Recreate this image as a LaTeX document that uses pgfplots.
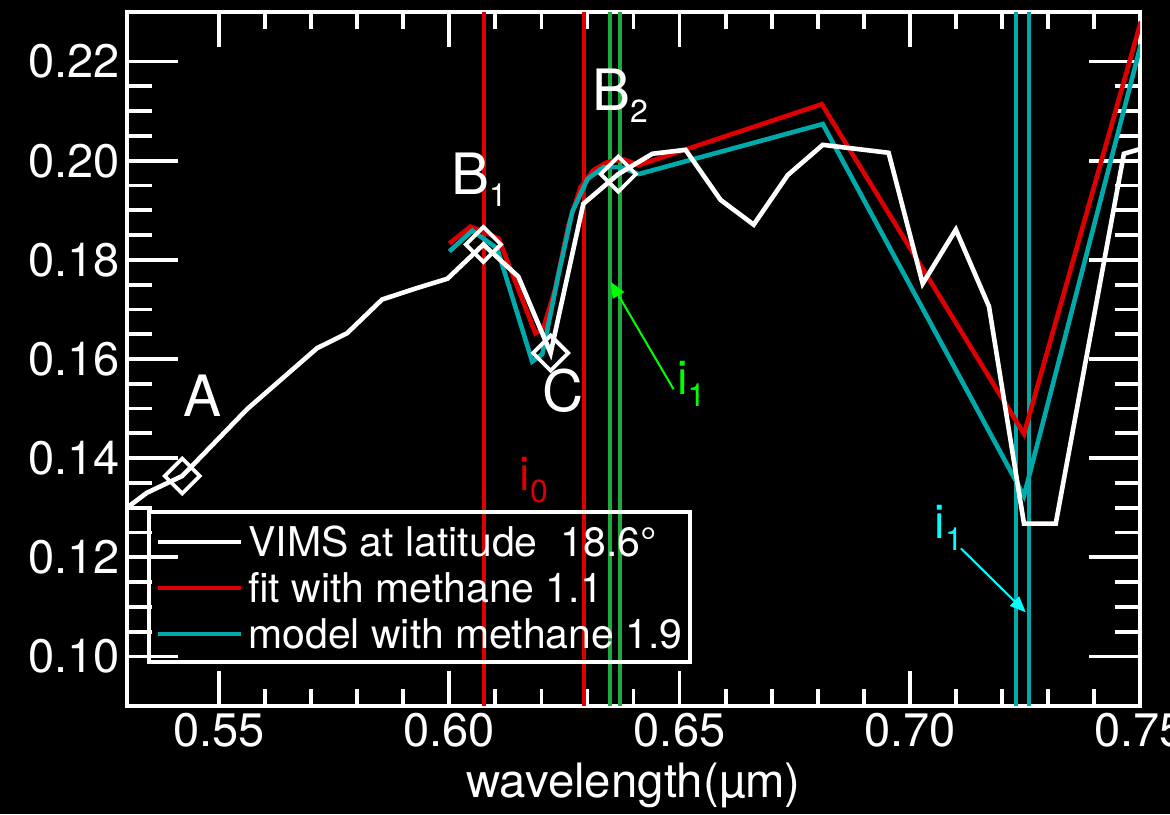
\documentclass[border=0pt]{standalone}
\usepackage{pgfplots}
\pgfplotsset{compat=1.18}
\usepackage{fontspec}
\setmainfont{TeX Gyre Heros}
\usetikzlibrary{arrows.meta}

\definecolor{fitred}{RGB}{220,0,0}
\definecolor{modelteal}{RGB}{0,170,170}
\definecolor{bandgreen}{RGB}{30,170,60}
\definecolor{arrowgreen}{RGB}{0,255,0}
\definecolor{arrowcyan}{RGB}{0,255,255}

\newcommand\ticksize{\fontsize{23.5}{23.5}\selectfont}
\newcommand\labelsize{\fontsize{23.7}{23.7}\selectfont}
\newcommand\lettersize{\fontsize{28.5}{30}\selectfont}
\newcommand\legendsize{\fontsize{20.5}{20.5}\selectfont}
\newcommand\subsize{\fontsize{16}{16}\selectfont}
\newcommand\sub[1]{\raisebox{-6pt}{\subsize #1}}

\pgfplotsset{
  frame/.style={
    scale only axis, width=506.5pt, height=347pt,
    xmin=0.53, xmax=0.75, ymin=0.09, ymax=0.23,
    axis line style={white, line width=2pt},
    tick style={white, line width=1.9pt},
    tick align=inside,
    xtick pos=both, ytick pos=both,
    /pgf/number format/assume math mode=true,
    ticklabel style={text=white, font=\ticksize},
  },
}

\begin{document}
\begin{tikzpicture}
\path[use as bounding box, fill=black] (-63.5pt,-54pt) rectangle (521.5pt,353pt);

% horizontal axes: shorter ticks
\begin{axis}[frame,
  ytick=\empty,
  xtick={0.55,0.6,0.65,0.7,0.75},
  minor x tick num=4,
  major tick length=17.3pt, minor tick length=8.7pt,
  xticklabel pos=lower,
  xticklabel style={/pgf/number format/.cd, fixed, fixed zerofill, precision=2},
  xlabel={wavelength(µm)},
  xlabel style={text=white, font=\labelsize, at={(axis description cs:0.5,0)}, anchor=base, yshift=-45.5pt},
]
\end{axis}

% vertical axes, spectra and annotations
\begin{axis}[frame,
  xtick=\empty,
  ytick={0.1,0.12,0.14,0.16,0.18,0.2,0.22},
  minor y tick num=3,
  major tick length=25.3pt, minor tick length=12.6pt,
  yticklabel pos=left,
  yticklabel style={/pgf/number format/.cd, fixed, fixed zerofill, precision=2},
  legend style={
    at={(axis description cs:0.0197,0.2825)}, anchor=north west,
    draw=white, line width=1.9pt, fill=none, text=white,
    font=\legendsize,
    inner xsep=3.5pt, inner ysep=3pt, row sep=0pt,
    nodes={inner sep=0pt, text height=19.5pt, text depth=3.5pt},
    /tikz/every odd column/.append style={column sep=2.5pt},
  },
  legend cell align=left,
  legend image code/.code={\draw[#1] (0pt,-0.5pt) -- (41.5pt,-0.5pt);},
]
\addlegendimage{white, line width=2.2pt}
\addlegendentry{VIMS at latitude\ \ 18.6°}
\addlegendimage{fitred, line width=2.2pt}
\addlegendentry{fit with methane 1.1}
\addlegendimage{modelteal, line width=2.2pt}
\addlegendentry{model with methane 1.9}

% band limits
\addplot[forget plot, fitred, line width=2pt] coordinates {(0.6075,0.09) (0.6075,0.23)};
\addplot[forget plot, fitred, line width=2pt] coordinates {(0.6293,0.09) (0.6293,0.23)};
\addplot[forget plot, bandgreen, line width=2pt] coordinates {(0.6348,0.09) (0.6348,0.23)};
\addplot[forget plot, bandgreen, line width=2pt] coordinates {(0.6370,0.09) (0.6370,0.23)};
\addplot[forget plot, modelteal, line width=2pt] coordinates {(0.7230,0.09) (0.7230,0.23)};
\addplot[forget plot, modelteal, line width=2pt] coordinates {(0.7259,0.09) (0.7259,0.23)};

% fit with methane 1.1
\addplot[forget plot, fitred, line width=2.3pt] coordinates {
(0.6000,0.1833) (0.6046,0.1867) (0.6074,0.1857) (0.6107,0.1843)
(0.6187,0.1652) (0.6204,0.1662) (0.6230,0.1742) (0.6259,0.1871)
(0.6285,0.1947) (0.6313,0.1981) (0.6343,0.1997) (0.6378,0.2003)
(0.6411,0.1991) (0.6809,0.2114) (0.7248,0.1449) (0.7502,0.2281)
};
% model with methane 1.9
\addplot[forget plot, modelteal, line width=2.3pt] coordinates {
(0.6000,0.1817) (0.6050,0.1859) (0.6074,0.1843) (0.6104,0.1823)
(0.6180,0.1595) (0.6202,0.1610) (0.6237,0.1770) (0.6267,0.1897)
(0.6300,0.1963) (0.6335,0.1987) (0.6372,0.1987) (0.6411,0.1973)
(0.6811,0.2074) (0.7248,0.1324) (0.7502,0.2235)
};
% VIMS spectrum
\addplot[forget plot, white, line width=2.3pt] coordinates {
(0.5300,0.1300) (0.5343,0.1330) (0.5420,0.1364) (0.5561,0.1499)
(0.5713,0.1622) (0.5778,0.1652) (0.5854,0.1720) (0.5926,0.1742)
(0.5996,0.1762) (0.6074,0.1831) (0.6150,0.1766) (0.6220,0.1612)
(0.6291,0.1913) (0.6367,0.1973) (0.6441,0.2014) (0.6513,0.2022)
(0.6589,0.1921) (0.6661,0.1871) (0.6735,0.1971) (0.6811,0.2032)
(0.6954,0.2016) (0.7028,0.1752) (0.7100,0.1861) (0.7172,0.1706)
(0.7248,0.1268) (0.7317,0.1268) (0.7465,0.2014) (0.7502,0.2024)
};
% points A, B1, C, B2
\addplot[forget plot, only marks, mark=square, mark size=6.2pt,
  mark options={rotate=45, draw=white, fill=none, line width=1.9pt}] coordinates {
(0.5420,0.1364) (0.6074,0.1831) (0.6220,0.1612) (0.6367,0.1973)
};

\node[anchor=base west, inner sep=0pt, text=white, font=\lettersize] at (axis cs:0.5422,0.1485) {A};
\node[anchor=base west, inner sep=0pt, text=white, font=\lettersize] at (axis cs:0.6003,0.1931) {B\sub{1}};
\node[anchor=base west, inner sep=0pt, text=white, font=\lettersize] at (axis cs:0.6309,0.2102) {B\sub{2}};
\node[anchor=base west, inner sep=0pt, text=white, font=\lettersize] at (axis cs:0.6202,0.1495) {C};
\node[anchor=base west, inner sep=0pt, text=fitred, font=\ticksize] at (axis cs:0.6152,0.1334) {i\sub{0}};
\node[anchor=base west, inner sep=0pt, text=arrowgreen, font=\ticksize] at (axis cs:0.6494,0.1529) {i\sub{1}};
\node[anchor=base west, inner sep=0pt, text=arrowcyan, font=\ticksize] at (axis cs:0.7053,0.1238) {i\sub{1}};
\draw[arrowgreen, line width=1pt, -{Triangle[length=8pt, width=6.5pt]}]
  (axis cs:0.6487,0.1539) -- (axis cs:0.6350,0.1756);
\draw[arrowcyan, line width=1pt, -{Triangle[length=8pt, width=6.5pt]}]
  (axis cs:0.7111,0.1218) -- (axis cs:0.7252,0.1089);
\end{axis}
\end{tikzpicture}
\end{document}
